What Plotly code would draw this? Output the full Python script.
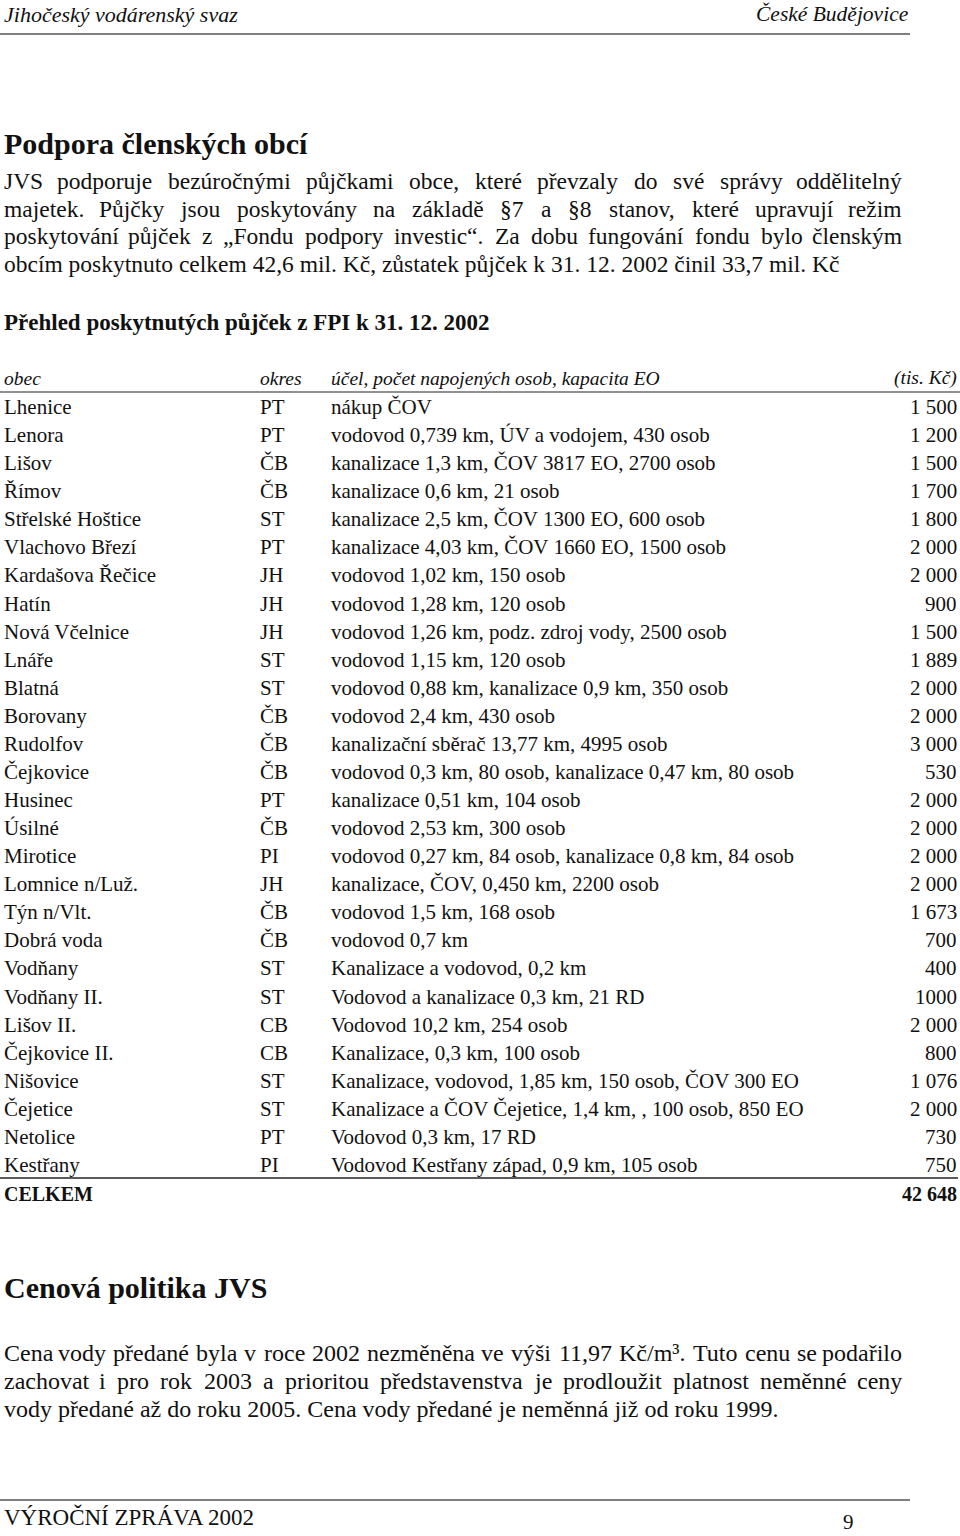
import unicodedata
import plotly.graph_objects as go

# ---------------- data ----------------
header_left = "Jihočeský vodárenský svaz"
header_right = "České Budějovice"
title1 = "Podpora členských obcí"
para1 = [
    "JVS podporuje bezúročnými půjčkami obce, které převzaly do své správy oddělitelný",
    "majetek. Půjčky jsou poskytovány na základě §7 a §8 stanov, které upravují režim",
    "poskytování půjček z „Fondu podpory investic“. Za dobu fungování fondu bylo členským",
    "obcím poskytnuto celkem 42,6 mil. Kč, zůstatek půjček k 31. 12. 2002 činil 33,7 mil. Kč",
]
subtitle = "Přehled poskytnutých půjček z FPI k 31. 12. 2002"
col_headers = ["obec", "okres", "účel, počet napojených osob, kapacita EO", "(tis. Kč)"]

obce = ["Lhenice", "Lenora", "Lišov", "Římov", "Střelské Hoštice", "Vlachovo Březí",
        "Kardašova Řečice", "Hatín", "Nová Včelnice", "Lnáře", "Blatná", "Borovany",
        "Rudolfov", "Čejkovice", "Husinec", "Úsilné", "Mirotice", "Lomnice n/Luž.",
        "Týn n/Vlt.", "Dobrá voda", "Vodňany", "Vodňany II.", "Lišov II.",
        "Čejkovice II.", "Nišovice", "Čejetice", "Netolice", "Kestřany"]
okresy = ["PT", "PT", "ČB", "ČB", "ST", "PT", "JH", "JH", "JH", "ST", "ST", "ČB",
          "ČB", "ČB", "PT", "ČB", "PI", "JH", "ČB", "ČB", "ST", "ST", "CB", "CB",
          "ST", "ST", "PT", "PI"]
ucel = [
    "nákup ČOV",
    "vodovod 0,739 km, ÚV a vodojem, 430 osob",
    "kanalizace 1,3 km, ČOV 3817 EO, 2700 osob",
    "kanalizace 0,6 km, 21 osob",
    "kanalizace 2,5 km, ČOV 1300 EO, 600 osob",
    "kanalizace 4,03 km, ČOV 1660 EO, 1500 osob",
    "vodovod 1,02 km, 150 osob",
    "vodovod 1,28 km, 120 osob",
    "vodovod 1,26 km, podz. zdroj vody, 2500 osob",
    "vodovod 1,15 km, 120 osob",
    "vodovod 0,88 km, kanalizace 0,9 km, 350 osob",
    "vodovod 2,4 km, 430 osob",
    "kanalizační sběrač 13,77 km, 4995 osob",
    "vodovod 0,3 km, 80 osob, kanalizace 0,47 km, 80 osob",
    "kanalizace 0,51 km, 104 osob",
    "vodovod 2,53 km, 300 osob",
    "vodovod 0,27 km, 84 osob, kanalizace 0,8 km, 84 osob",
    "kanalizace, ČOV, 0,450 km, 2200 osob",
    "vodovod 1,5 km, 168 osob",
    "vodovod 0,7 km",
    "Kanalizace a vodovod, 0,2 km",
    "Vodovod a kanalizace 0,3 km, 21 RD",
    "Vodovod 10,2 km, 254 osob",
    "Kanalizace, 0,3 km, 100 osob",
    "Kanalizace, vodovod, 1,85 km, 150 osob, ČOV 300 EO",
    "Kanalizace a ČOV Čejetice, 1,4 km, , 100 osob, 850 EO",
    "Vodovod 0,3 km, 17 RD",
    "Vodovod Kestřany západ, 0,9 km, 105 osob",
]
castky = ["1 500", "1 200", "1 500", "1 700", "1 800", "2 000", "2 000", "900",
          "1 500", "1 889", "2 000", "2 000", "3 000", "530", "2 000", "2 000",
          "2 000", "2 000", "1 673", "700", "400", "1000", "2 000", "800", "1 076",
          "2 000", "730", "750"]
celkem_label = "CELKEM"
celkem_value = "42 648"

title2 = "Cenová politika JVS"
para2 = [
    "Cena vody předané byla v roce 2002 nezměněna ve výši 11,97 Kč/m³.  Tuto cenu se podařilo",
    "zachovat i pro rok 2003 a prioritou představenstva je prodloužit platnost neměnné ceny",
    "vody předané až do roku 2005. Cena vody předané je neměnná již od roku 1999.",
]
footer_left = "VÝROČNÍ ZPRÁVA 2002"
page_no = "9"

# ---------------- styling ----------------
FONT = "Liberation Serif"
INK = "#111111"
W, H = 960, 1536
BODY = 23.5
TAB = 21

fig = go.Figure()
ann = []


def text(x, y, s, size, xanchor="left", bold=False, italic=False):
    ann.append(dict(
        x=x, y=y, xref="x", yref="y", text=s, showarrow=False,
        xanchor=xanchor, yanchor="middle",
        font=dict(family=FONT, size=size, color=INK,
                  weight="bold" if bold else "normal",
                  style="italic" if italic else "normal"),
    ))


# approximate Times-like widths (em) used to justify lines
WID = {'a': .444, 'b': .5, 'c': .444, 'd': .5, 'e': .444, 'f': .333, 'g': .5, 'h': .5,
       'i': .278, 'j': .278, 'k': .5, 'l': .278, 'm': .778, 'n': .5, 'o': .5, 'p': .5,
       'q': .5, 'r': .333, 's': .389, 't': .278, 'u': .5, 'v': .5, 'w': .722, 'x': .5,
       'y': .5, 'z': .444, ',': .25, '.': .25, '„': .444, '“': .444, '§': .5, '/': .278,
       '³': .3, 'I': .333, 'J': .389, 'S': .556, 'V': .722, 'P': .556, 'K': .722,
       'T': .611, 'C': .667, 'Z': .611, 'F': .556}


def est_width(word, size):
    w = 0
    for ch in word:
        if ch in WID:
            w += WID[ch]
            continue
        base = unicodedata.normalize("NFD", ch)[0]
        if base.isdigit():
            w += .5
        else:
            w += WID.get(base, .68 if base.isupper() else .5)
    return w * size


def justified(line, y, size, x0, x1):
    words = line.split()
    widths = [est_width(w, size) for w in words]
    gap = (x1 - x0 - sum(widths)) / (len(words) - 1)
    x = x0
    for i, (w, wd) in enumerate(zip(words, widths)):
        if i == 0:
            text(x0, y, w, size, "left")
        elif i == len(words) - 1:
            text(x1, y, w, size, "right")
        else:
            text(x + wd / 2, y, w, size, "center")
        x += wd + gap


# header
text(2, 14, header_left, 22, italic=True)
text(911, 14, header_right, 21.5, "right", italic=True)

# section 1
text(2, 143, title1, 30, bold=True)
p1_y = [181, 208.5, 236, 263.5]
for i, line in enumerate(para1):
    if i < len(para1) - 1:
        justified(line, p1_y[i], BODY, 2, 904)
    else:
        text(2, p1_y[i], line, BODY)
text(2, 322, subtitle, 23, bold=True)

# table
col_x = [2, 258, 329, 959]
col_anchor = ["left", "left", "left", "right"]
for cx, anc, h in zip(col_x, col_anchor, col_headers):
    text(cx, 378, h, 19.5, anc, italic=True)

row0, row_last = 407, 1165
pitch = (row_last - row0) / (len(obce) - 1)
for i in range(len(obce)):
    y = row0 + i * pitch
    for cx, anc, val in zip(col_x, col_anchor, [obce[i], okresy[i], ucel[i], castky[i]]):
        text(cx, y, val, TAB, anc)
text(2, 1194, celkem_label, 20, bold=True)
text(959, 1194, celkem_value, 20, "right", bold=True)

# section 2
text(2, 1287, title2, 30, bold=True)
p2_y = [1353, 1381, 1409]
for i, line in enumerate(para2):
    if i < len(para2) - 1:
        justified(line, p2_y[i], 24, 2, 904)
    else:
        text(2, p2_y[i], line, 24)

# footer
text(2, 1517, footer_left, 23)
text(848, 1522, page_no, 21, "center")

shapes = [
    dict(type="line", x0=0, x1=910, y0=34, y1=34, line=dict(color="#555555", width=1.5)),
    dict(type="line", x0=0, x1=960, y0=392, y1=392, line=dict(color="#222222", width=1.2)),
    dict(type="line", x0=0, x1=958, y0=1178, y1=1178, line=dict(color="#222222", width=1.5)),
    dict(type="line", x0=0, x1=910, y0=1500, y1=1500, line=dict(color="#555555", width=1.5)),
]
for s in shapes:
    s.update(xref="x", yref="y")

fig.update_layout(
    width=W, height=H, margin=dict(l=0, r=0, t=0, b=0),
    paper_bgcolor="white", plot_bgcolor="white",
    xaxis=dict(range=[0, W], visible=False, fixedrange=True),
    yaxis=dict(range=[H, 0], visible=False, fixedrange=True),
    annotations=ann, shapes=shapes, showlegend=False,
)
fig.write_html(
    "out.html",
    config={"displayModeBar": False},
    post_script="document.body.style.margin='0';document.body.style.overflow='hidden';",
)
